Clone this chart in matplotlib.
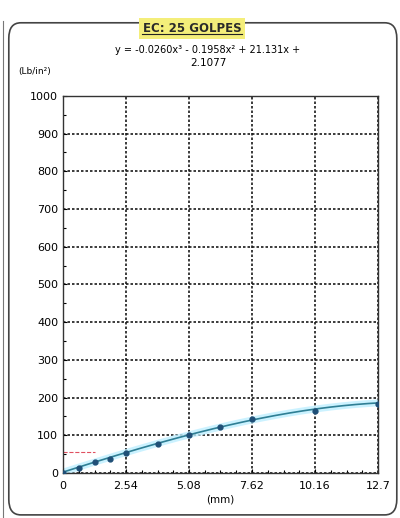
import numpy as np
import matplotlib.pyplot as plt
from matplotlib.patches import FancyBboxPatch

# penetracion (mm) vs esfuerzo (Lb/in2), EC: 25 golpes
pen = [0, 0.64, 1.27, 1.91, 2.54, 3.81, 5.08, 6.35, 7.62, 10.16, 12.7]
esf = [0, 13, 28, 38, 52, 76, 101, 123, 143, 164, 184]
x_ticks = [0, 2.54, 5.08, 7.62, 10.16, 12.7]
x_labels = ["0", "2.54", "5.08", "7.62", "10.16", "12.7"]
y_ticks = [0, 100, 200, 300, 400, 500, 600, 700, 800, 900, 1000]
coef = [-0.0260, -0.1958, 21.131, 2.1077]

fig = plt.figure(figsize=(4, 5.18), dpi=100)
fig.patch.set_facecolor("white")

# marco redondeado
box = FancyBboxPatch((0.022, 0.006), 0.97, 0.95, boxstyle="round,pad=0,rounding_size=0.03",
                     transform=fig.transFigure, fill=False, ec="#444444", lw=1.2)
fig.patches.append(box)
fig.add_artist(plt.Line2D([0.008, 0.008], [0.0, 0.96], color="#777777", lw=0.8))

ax = fig.add_axes([0.1575, 0.087, 0.7875, 0.728])

xs = np.linspace(0, 12.7, 200)
ys = np.polyval(coef, xs)
ax.plot(xs, ys, color="#bfefff", lw=5, alpha=0.8, zorder=2)
ax.plot(xs, ys, color="#2f7f95", lw=1.2, zorder=3)
ax.plot(pen, esf, "o", color="#1f4f77", ms=3.5, zorder=4)
ax.plot([0, 1.3], [55, 55], "--", color="#e05060", lw=0.8, zorder=2)

ax.set_xlim(0, 12.7)
ax.set_ylim(0, 1000)
ax.set_xticks(x_ticks)
ax.set_xticklabels(x_labels)
ax.set_yticks(y_ticks)
ax.set_xticks(np.arange(0, 12.71, 0.635), minor=True)
ax.set_yticks(np.arange(0, 1001, 50), minor=True)
ax.tick_params(which="both", direction="in", labelsize=8, length=3, width=0.8)
ax.tick_params(which="minor", length=2)
ax.tick_params(axis="x", pad=6)
ax.grid(True, which="major", color="#1a1a1a", ls=(0, (1.5, 1.2)), lw=1.2)
for s in ax.spines.values():
    s.set_color("#333333")
    s.set_linewidth(1.0)

ax.set_xlabel("(mm)", fontsize=7.5, labelpad=2)
fig.text(0.045, 0.862, "(Lb/in²)", fontsize=6.5, va="center")

fig.text(0.48, 0.945, "EC: 25 GOLPES", fontsize=8.5, weight="bold", ha="center",
         va="center", color="#2a2a2a",
         bbox=dict(boxstyle="square,pad=0.3", fc="#f4ee7a", ec="none"))
fig.add_artist(plt.Line2D([0.355, 0.605], [0.934, 0.934], color="#222222", lw=0.8, zorder=5))
fig.text(0.52, 0.903, "y = -0.0260x³ - 0.1958x² + 21.131x +", fontsize=7,
         ha="center", va="center")
fig.text(0.52, 0.878, "2.1077", fontsize=7.5, ha="center", va="center")

fig.savefig("out.png", dpi=100)
